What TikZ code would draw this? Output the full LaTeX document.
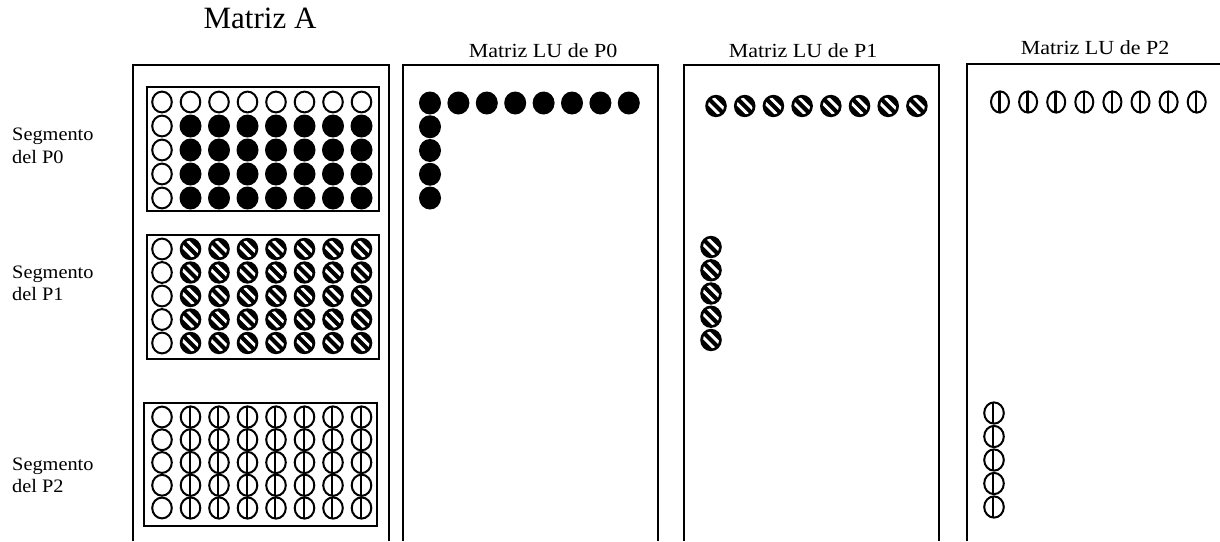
\documentclass[tikz,border=0pt]{standalone}
\usepackage{fontspec}
\setmainfont{Liberation Serif}
\usepackage{graphicx}
\tikzset{
  pics/opc/.style={code={\draw[line width=2pt] (0,0) ellipse[x radius=9.8, y radius=10.4];}},
  pics/fullc/.style={code={\fill (0,0) ellipse[x radius=11, y radius=11.5];}},
  pics/hatc/.style={code={
    \fill (0,0) ellipse[x radius=10.8, y radius=11.2];
    \begin{scope}
      \clip (0,0) ellipse[x radius=8, y radius=8.4];
      \draw[white, line width=2.9pt] (-10.4,-15.6) -- (15.6,10.4);
      \draw[white, line width=2.9pt] (-15.6,-10.4) -- (10.4,15.6);
    \end{scope}}},
  pics/vlc/.style={code={
    \draw[line width=2pt] (0,0) ellipse[x radius=9.8, y radius=10.6];
    \draw[line width=2.4pt] (-0.8,-11) -- (-0.8,11);}},
  pics/vlcn/.style={code={
    \draw[line width=2pt] (0,0) ellipse[x radius=9, y radius=10.6];
    \draw[line width=2.4pt] (-0.6,-11) -- (-0.6,11);}},
}
\begin{document}
\begin{tikzpicture}[x=1pt,y=-1pt,
  frame/.style={line width=2pt},
  segbox/.style={line width=2pt},
  titleA/.style={font=\fontsize{31}{31}\selectfont, anchor=base, inner sep=0pt},
  lutitle/.style={font=\fontsize{20}{20}\selectfont, anchor=base, inner sep=0pt},
  seglab/.style={font=\fontsize{19}{19}\selectfont, anchor=base west, inner sep=0pt},
]
\useasboundingbox (0,0) rectangle (1220,541);

% outer frames (open at the bottom)
\draw[frame] (133,541) -- (133,65) -- (389,65) -- (389,541);
\draw[frame] (403,541) -- (403,65) -- (658,65) -- (658,541);
\draw[frame] (684,541) -- (684,65) -- (939,65) -- (939,541);
\draw[frame] (967,541) -- (967,64) -- (1220,64);

% segment boxes
\draw[segbox] (147,87) rectangle (379,211);
\draw[segbox] (147,235) rectangle (379,359);
\draw[segbox] (144,403) rectangle (377,526);

% titles
\node[titleA] (tA) at (260,28) {Matriz A};
\node[lutitle] (t0) at (543,57) {\scalebox{1.1}[1]{Matriz LU de P0}};
\node[lutitle] (t1) at (803,57) {\scalebox{1.1}[1]{Matriz LU de P1}};
\node[lutitle] (t2) at (1095,54) {\scalebox{1.1}[1]{Matriz LU de P2}};

% segment labels
\node[seglab] (s0a) at (12,140) {\scalebox{1.07}[1]{Segmento}};
\node[seglab] (s0b) at (12,163) {\scalebox{1.07}[1]{del P0}};
\node[seglab] (s1a) at (12,278) {\scalebox{1.07}[1]{Segmento}};
\node[seglab] (s1b) at (12,300) {\scalebox{1.07}[1]{del P1}};
\node[seglab] (s2a) at (12,470) {\scalebox{1.07}[1]{Segmento}};
\node[seglab] (s2b) at (12,492) {\scalebox{1.07}[1]{del P2}};

% Matriz A, segment P0
\foreach \j in {0,...,7} \pic at ({162+28.5*\j},102) {opc};
\foreach \i in {1,...,4}{
  \pic at (162,{102+24*\i}) {opc};
  \foreach \j in {1,...,7} \pic at ({162+28.5*\j},{102+24*\i}) {fullc};
}
% segment P1
\foreach \i in {0,...,4}{
  \pic at (162,{249+23.5*\i}) {opc};
  \foreach \j in {1,...,7} \pic at ({162+28.5*\j},{249+23.5*\i}) {hatc};
}
% segment P2
\foreach \i in {0,...,4}{
  \pic at (162,{417+22.75*\i}) {opc};
  \foreach \j in {1,...,7} \pic at ({162+28.5*\j},{417+22.75*\i}) {vlc};
}

% LU of P0
\foreach \j in {0,...,7} \pic at ({430+28.4*\j},103) {fullc};
\foreach \i in {1,...,4} \pic at (430,{103+23.75*\i}) {fullc};
% LU of P1
\foreach \j in {0,...,7} \pic at ({716+28.7*\j},106) {hatc};
\foreach \i in {0,...,4} \pic at (711,{247+23.25*\i}) {hatc};
% LU of P2
\foreach \j in {0,...,7} \pic at ({1000+28.1*\j},102) {vlcn};
\foreach \i in {0,...,4} \pic at (994,{413+23.5*\i}) {vlc};
\end{tikzpicture}
\end{document}
